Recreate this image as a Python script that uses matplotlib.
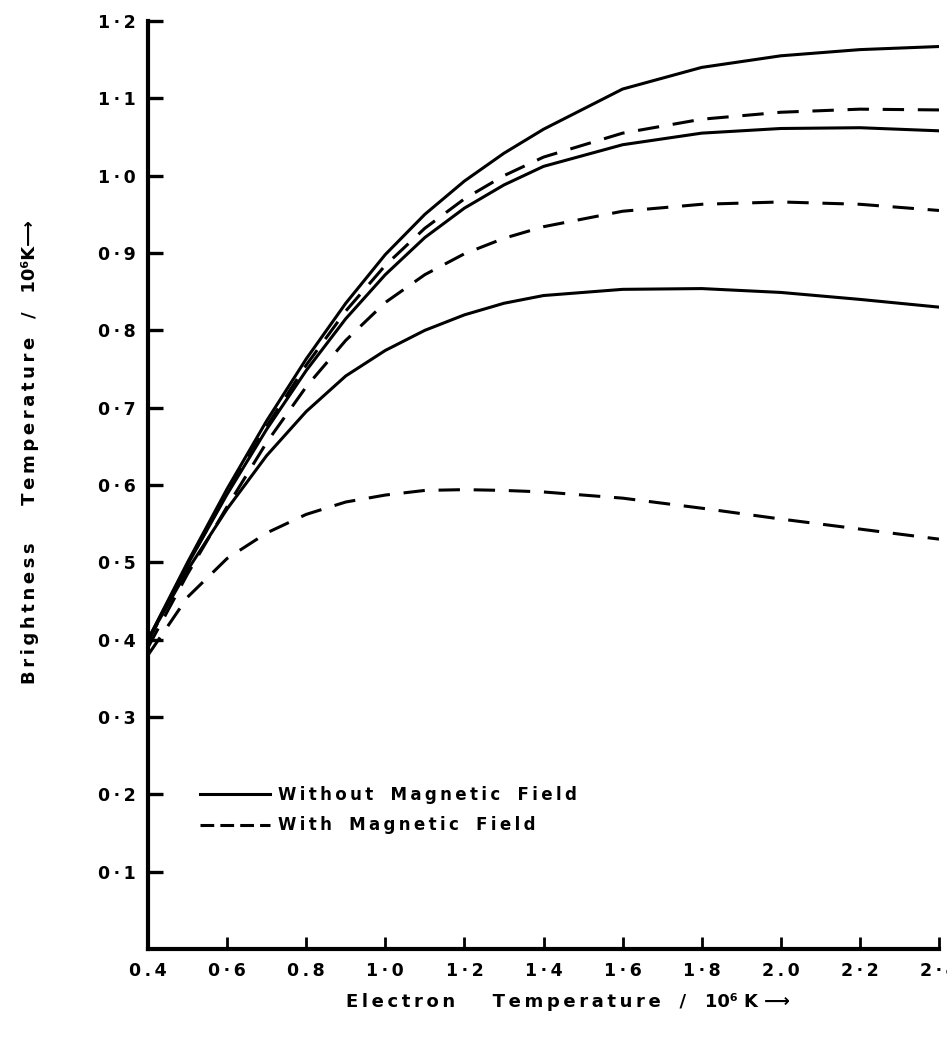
import matplotlib.pyplot as plt
from matplotlib.lines import Line2D

plt.rcParams['font.family'] = ['DejaVu Sans']
plt.rcParams['font.weight'] = 'bold'

# electron temperature (10^6 K)
te = [0.4, 0.5, 0.6, 0.7, 0.8, 0.9, 1.0, 1.1, 1.2, 1.3, 1.4, 1.6, 1.8, 2.0, 2.2, 2.4]

# brightness temperature (10^6 K), without magnetic field
tb_nofield_1 = [0.40, 0.50, 0.595, 0.683, 0.763, 0.835, 0.898, 0.950, 0.993, 1.029, 1.060, 1.112, 1.140, 1.155, 1.163, 1.167]
tb_nofield_2 = [0.40, 0.497, 0.588, 0.672, 0.748, 0.815, 0.872, 0.920, 0.958, 0.988, 1.012, 1.040, 1.055, 1.061, 1.062, 1.058]
tb_nofield_3 = [0.40, 0.49, 0.569, 0.638, 0.695, 0.741, 0.774, 0.800, 0.820, 0.835, 0.845, 0.853, 0.854, 0.849, 0.840, 0.830]

# brightness temperature (10^6 K), with magnetic field
tb_field_1 = [0.397, 0.497, 0.59, 0.676, 0.755, 0.825, 0.884, 0.932, 0.970, 1.000, 1.024, 1.055, 1.073, 1.082, 1.086, 1.085]
tb_field_2 = [0.39, 0.485, 0.572, 0.655, 0.727, 0.787, 0.836, 0.872, 0.899, 0.919, 0.934, 0.954, 0.963, 0.966, 0.963, 0.955]
tb_field_3 = [0.38, 0.455, 0.505, 0.538, 0.562, 0.578, 0.587, 0.593, 0.594, 0.593, 0.591, 0.583, 0.570, 0.556, 0.543, 0.530]

xticks = [0.4, 0.6, 0.8, 1.0, 1.2, 1.4, 1.6, 1.8, 2.0, 2.2, 2.4]
xticklabels = ['0.4', '0·6', '0.8', '1·0', '1·2', '1·4', '1·6', '1·8', '2.0', '2·2', '2·4']
yticks = [0.1, 0.2, 0.3, 0.4, 0.5, 0.6, 0.7, 0.8, 0.9, 1.0, 1.1, 1.2]
yticklabels = ['0·1', '0·2', '0·3', '0·4', '0·5', '0·6', '0·7', '0·8', '0·9', '1·0', '1·1', '1·2']


def spaced(s, sep='\u2009'):
    # wide letter spacing like stencil lettering
    return sep.join(s)


fig = plt.figure(figsize=(9.47, 10.38), dpi=100)
ax = fig.add_axes([148 / 947, 89 / 1038, 791 / 947, 928 / 1038])

lw = 2.2
dash = (7, 4.5)
for tb in [tb_nofield_1, tb_nofield_2, tb_nofield_3]:
    ax.plot(te, tb, color='black', lw=lw, solid_capstyle='round', solid_joinstyle='round')
for tb in [tb_field_1, tb_field_2, tb_field_3]:
    ax.plot(te, tb, color='black', lw=lw, dashes=dash)

ax.set_xlim(0.4, 2.4)
ax.set_ylim(0, 1.2)
ax.spines['top'].set_visible(False)
ax.spines['right'].set_visible(False)
ax.spines['left'].set_linewidth(3)
ax.spines['bottom'].set_linewidth(3)

ax.set_xticks(xticks)
ax.set_xticklabels([spaced(t) for t in xticklabels])
ax.set_yticks(yticks)
ax.set_yticklabels([spaced(t) for t in yticklabels])
ax.tick_params(axis='y', direction='in', length=11, width=2.4, pad=9, labelsize=12.5)
ax.tick_params(axis='x', direction='in', length=9, width=2.0, pad=9, labelsize=12.5)

# legend
handles = [Line2D([], [], color='black', lw=2.2, ls='-'),
           Line2D([], [], color='black', lw=2.2, dashes=(4.5, 2))]
labels = [spaced('Without') + '   ' + spaced('Magnetic') + '   ' + spaced('Field'),
          spaced('With') + '   ' + spaced('Magnetic') + '   ' + spaced('Field')]
ax.legend(handles, labels, loc='upper left', bbox_to_anchor=(200 / 947, 1 - 786 / 1038),
          bbox_transform=fig.transFigure, frameon=False,
          handlelength=4.2, handletextpad=0.5, borderpad=0, borderaxespad=0,
          labelspacing=0.75, prop={'weight': 'bold', 'size': 12})

# axis titles
fig.text(568 / 947, 1 - 1002 / 1038,
         spaced('Electron') + '      ' + spaced('Temperature') + '   /   10' + '\u2076' + ' K \u27f6',
         ha='center', va='center', fontsize=13, fontweight='bold')
fig.text(30 / 947, 1 - 452 / 1038,
         spaced('Brightness') + '      ' + spaced('Temperature') + '   /   10' + '\u2076' + 'K\u27f6',
         ha='center', va='center', rotation=90, fontsize=13, fontweight='bold')

fig.savefig('out.png', dpi=100)
